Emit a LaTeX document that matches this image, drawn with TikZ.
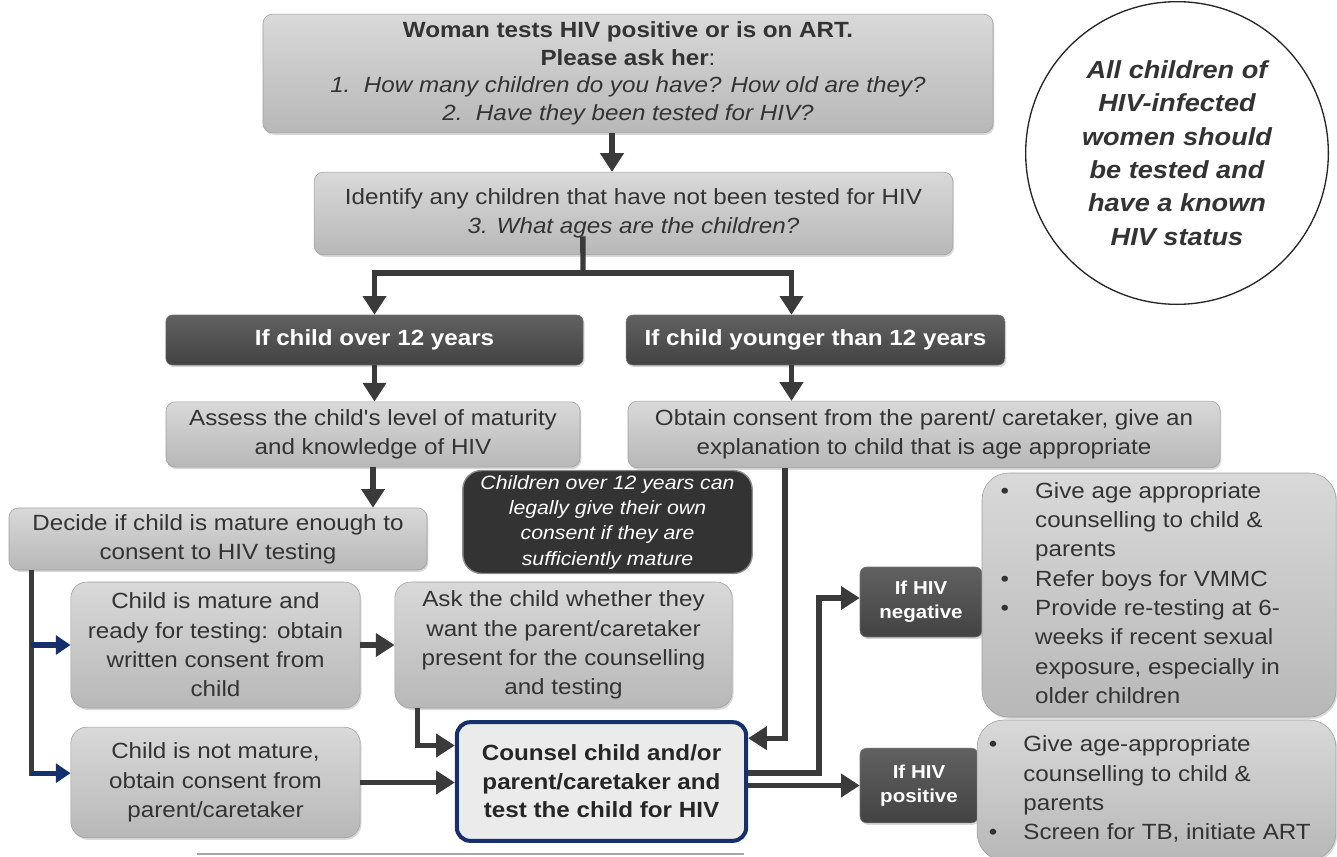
\documentclass[tikz,border=0pt]{standalone}
\usepackage{fontspec}
\setmainfont{Liberation Sans}[FakeStretch=1.1,Ligatures=TeXOff]
\usepackage{array}
\usetikzlibrary{arrows.meta,shadows}
\definecolor{ink}{HTML}{3A3A3A}
\definecolor{navy}{HTML}{15306C}

\tikzset{
  graybox/.style={draw=black!38, rounded corners=7pt, top color=black!15, bottom color=black!28,
    drop shadow={shadow xshift=1pt,shadow yshift=-1.5pt,opacity=0.3},
    text=black!80, align=center, inner sep=2pt, font=\fontsize{16.5}{21.5}\selectfont},
  darkbox/.style={draw=black!55, rounded corners=5pt, top color=black!62, bottom color=black!74,
    drop shadow={shadow xshift=1pt,shadow yshift=-1.5pt,opacity=0.3},
    text=white, align=center, inner sep=2pt, font=\bfseries\fontsize{16.5}{20}\selectfont},
  arr/.style={draw=ink, line width=4pt, -{Triangle[length=14pt,width=17pt]}},
  bluearr/.style={draw=navy, line width=4pt, -{Triangle[length=11pt,width=14pt]}},
  link/.style={draw=ink, line width=4pt},
}

\begin{document}
\begin{tikzpicture}[x=0.75pt,y=-0.75pt]
\useasboundingbox (0,0) rectangle (1337,856);

% Question boxes at the top
\node[graybox, minimum width=547.5pt, minimum height=89pt, font=\fontsize{16.5}{20.6}\selectfont] (ask0) at (628,73.5)
  {\textbf{Woman tests HIV positive or is on ART.}\\
   \textbf{Please ask her}:\\
   \textit{1.\ \ How many children do you have? How old are they?}\\
   \textit{2.\ \ Have they been tested for HIV?}};
\node[graybox, minimum width=479pt, minimum height=62pt] (ident) at (633.5,213.5)
  {Identify any children that have not been tested for HIV\\ \textit{3. What ages are the children?}};

% Key message
\node[circle, draw=black!85, line width=1pt, fill=white, minimum size=227pt, align=center,
  text=black!80, font=\bfseries\itshape\fontsize{18.5}{25}\selectfont] (key) at (1177,153)
  {All children of\\HIV-infected\\women should\\be tested and\\have a known\\HIV status};

% Age branches
\node[darkbox, minimum width=313pt, minimum height=37.5pt] (over12) at (374.5,340) {If child over 12 years};
\node[darkbox, minimum width=284pt, minimum height=37.5pt] (younger) at (815.5,340) {If child younger than 12 years};
\node[graybox, minimum width=310.5pt, minimum height=49pt] (assess) at (373,434.5)
  {Assess the child's level of maturity\\and knowledge of HIV};
\node[graybox, minimum width=444pt, minimum height=50pt] (obtain) at (924,434.5)
  {Obtain consent from the parent/ caretaker, give an\\explanation to child that is age appropriate};
\node[graybox, minimum width=313.5pt, minimum height=46.5pt] (decide) at (218,539)
  {Decide if child is mature enough to\\consent to HIV testing};
\node[draw=black!45, line width=1pt, fill=black!80, rounded corners=14pt, minimum width=217pt, minimum height=75pt,
  align=center, text=white, font=\itshape\fontsize{14.5}{19}\selectfont] (legal) at (607.5,522)
  {Children over 12 years can\\legally give their own\\consent if they are\\sufficiently mature};

% Consent boxes
\node[graybox, rounded corners=12pt, minimum width=217pt, minimum height=94.5pt, font=\fontsize{16.5}{22}\selectfont] (mature) at (215.5,645)
  {Child is mature and\\ready for testing: obtain\\written consent from\\child};
\node[graybox, rounded corners=12pt, minimum width=253pt, minimum height=94.5pt, font=\fontsize{16.5}{22}\selectfont] (present) at (563.5,645)
  {Ask the child whether they\\want the parent/caretaker\\present for the counselling\\and testing};
\node[graybox, rounded corners=12pt, minimum width=217pt, minimum height=83pt, font=\fontsize{16.5}{22}\selectfont] (notmature) at (215.5,782.5)
  {Child is not mature,\\obtain consent from\\parent/caretaker};
\node[draw=navy, line width=3pt, fill=black!8, rounded corners=10pt, minimum width=217pt, minimum height=89pt,
  align=center, text=black!85, font=\bfseries\fontsize{16.5}{21.4}\selectfont] (counsel) at (601.5,781.5)
  {Counsel child and/or\\parent/caretaker and\\test the child for HIV};

% Results
\node[darkbox, minimum width=91.5pt, minimum height=52.5pt, font=\bfseries\fontsize{14}{18}\selectfont] (neg) at (921,602) {If HIV\\negative};
\node[darkbox, minimum width=88.5pt, minimum height=56pt, font=\bfseries\fontsize{14}{18}\selectfont] (pos) at (919,785.5) {If HIV\\positive};
\node[graybox, rounded corners=20pt, minimum width=265.5pt, minimum height=183pt, align=left,
  font=\fontsize{16.5}{22}\selectfont] (neglist) at (1159,595)
  {\begin{tabular}{@{\hspace{6pt}}l@{\hspace{19.5pt}}l@{}}
   \textbullet & Give age appropriate\\
               & counselling to child \&\\
               & parents\\
   \textbullet & Refer boys for VMMC\\
   \textbullet & Provide re-testing at 6-\\
               & weeks if recent sexual\\
               & exposure, especially in\\
               & older children
   \end{tabular}\hspace{34pt}};
\node[graybox, rounded corners=20pt, minimum width=269pt, minimum height=105pt, align=left,
  font=\fontsize{16.5}{22}\selectfont] (poslist) at (1156.5,790)
  {\begin{tabular}{@{\hspace{6pt}}l@{\hspace{19.5pt}}l@{}}
   \textbullet & Give age-appropriate\\
               & counselling to child \&\\
               & parents\\
   \textbullet & Screen for TB, initiate ART
   \end{tabular}\hspace{16pt}};

% Flow
\coordinate (t0) at ([xshift=-12pt]ask0.south);
\draw[arr] (t0) -- (t0 |- ident.north);
\coordinate (split) at (583,273);
\draw[link] ([xshift=-38pt,yshift=14pt]ident.south) -- (split);
\draw[arr] (split) -| (over12.north);
\draw[arr] (split) -| ([xshift=-18pt]younger.north);
\draw[arr] (over12.south) -- (over12.south |- assess.north);
\draw[arr] ([xshift=-18pt]younger.south) -- ([xshift=-18pt]younger.south |- obtain.north);
\draw[arr] (assess.south) -- (assess.south |- decide.north);

% Maturity decision
\coordinate (trunk) at ([xshift=17pt]decide.south west);
\coordinate (lowstub) at ([yshift=7pt]notmature.west);
\draw[link] (trunk) -- ([yshift=-2pt]trunk |- lowstub);
\draw[bluearr] (trunk |- mature.west) -- (mature.west);
\draw[bluearr] (trunk |- lowstub) -- (lowstub);
\draw[arr] (mature.east) -- (present.west);
\draw[arr] ([xshift=17pt]present.south west) |- ([yshift=27pt]counsel.west);
\draw[arr] (notmature.east) -- (notmature.east -| counsel.west);
\draw[arr] ([xshift=118pt]obtain.south west) |- ([yshift=32.5pt]counsel.east);

% Test result
\draw[arr] ([yshift=6.5pt]counsel.east) -- ++(53pt,0) |- ([yshift=3pt]neg.west);
\draw[arr] ([yshift=-3pt]counsel.east) -- ([yshift=-3pt]counsel.east -| pos.west);

% Rule at the foot
\draw[black!35, line width=1pt] (197,854) -- (744,854);
\end{tikzpicture}
\end{document}
